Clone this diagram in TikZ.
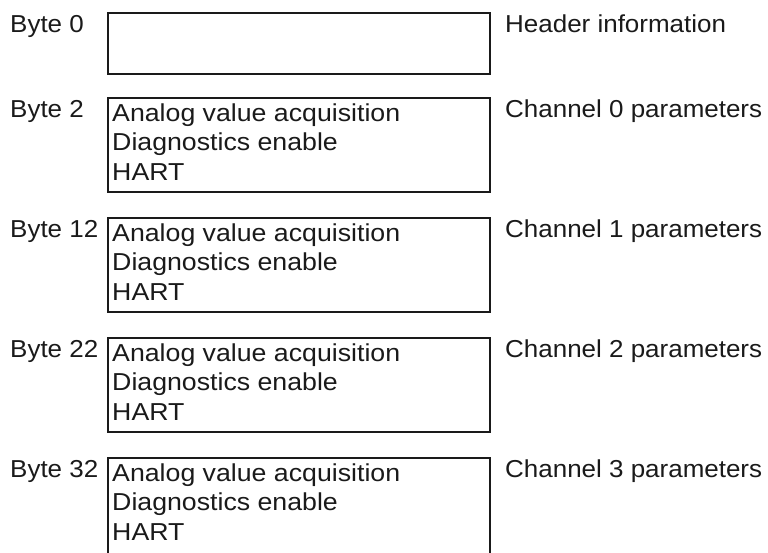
\documentclass[tikz,border=0pt]{standalone}
\usepackage{fontspec}
\setmainfont{Liberation Sans}
\usepackage{tikz}
\definecolor{ink}{HTML}{1A1A1A}
\tikzstyle{field} = [rectangle, draw=ink, line width=2pt, minimum width=382pt, minimum height=94pt, anchor=north west, inner sep=0pt, outer sep=0pt]
\tikzstyle{fieldtext} = [anchor=north west, align=left, inner sep=0pt, xshift=4pt, yshift=-5.5pt, xscale=1.09, transform shape, text=ink, font=\fontsize{24.5}{29.5}\selectfont]
\tikzstyle{bytetag} = [anchor=base west, inner sep=0pt, xscale=1.06, transform shape, text=ink, font=\fontsize{24.5}{29}\selectfont]
\tikzstyle{meaning} = [anchor=base west, inner sep=0pt, xscale=1.06, transform shape, text=ink, font=\fontsize{24.5}{29}\selectfont]

\begin{document}
\begin{tikzpicture}[x=1pt, y=-1pt]
\useasboundingbox (0,0) rectangle (768,552);

% Boxes
\node (hdr) [field, minimum height=61pt] at (108,13) {};
\node (ch0) [field] at (108,98) {};
\node (ch1) [field] at (108,218) {};
\node (ch2) [field] at (108,338) {};
\node (ch3) [field, minimum height=96pt] at (108,458) {};

% Box contents
\node (ch0txt) [fieldtext] at (ch0.north west) {Analog value acquisition\\Diagnostics enable\\HART};
\node (ch1txt) [fieldtext] at (ch1.north west) {Analog value acquisition\\Diagnostics enable\\HART};
\node (ch2txt) [fieldtext] at (ch2.north west) {Analog value acquisition\\Diagnostics enable\\HART};
\node (ch3txt) [fieldtext] at (ch3.north west) {Analog value acquisition\\Diagnostics enable\\HART};

% Byte offsets
\node (byte0) [bytetag] at (10,32) {Byte 0};
\node (byte2) [bytetag] at (10,117) {Byte 2};
\node (byte12) [bytetag] at (10,237) {Byte 12};
\node (byte22) [bytetag] at (10,357) {Byte 22};
\node (byte32) [bytetag] at (10,477) {Byte 32};

% Descriptions
\node (hdrinfo) [meaning] at (505,32) {Header information};
\node (ch0info) [meaning] at (505,117) {Channel 0 parameters};
\node (ch1info) [meaning] at (505,237) {Channel 1 parameters};
\node (ch2info) [meaning] at (505,357) {Channel 2 parameters};
\node (ch3info) [meaning] at (505,477) {Channel 3 parameters};

\end{tikzpicture}
\end{document}
